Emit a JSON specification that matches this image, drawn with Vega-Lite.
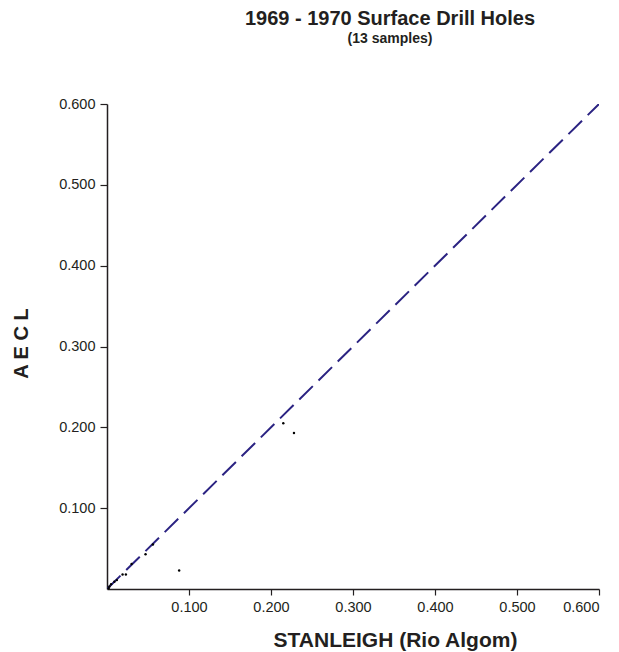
{
  "$schema": "https://vega.github.io/schema/vega-lite/v6.json",
  "width": 492,
  "height": 485,
  "autosize": {"type": "none"},
  "padding": {"left": 107, "top": 104, "right": 20, "bottom": 63},
  "background": "white",
  "config": {
    "view": {"stroke": null},
    "font": "Liberation Sans"
  },
  "title": {
    "text": "1969 - 1970 Surface Drill Holes",
    "subtitle": "(13 samples)",
    "anchor": "middle",
    "dx": 37,
    "offset": 50,
    "fontSize": 20,
    "fontWeight": "bold",
    "color": "#231f20",
    "subtitleFontSize": 14,
    "subtitleFontWeight": "bold",
    "subtitleColor": "#231f20",
    "subtitlePadding": 3,
    "font": "Liberation Sans",
    "subtitleFont": "Liberation Sans"
  },
  "datasets": {
    "samples": [
      {"stanleigh": 0.215, "aecl": 0.205},
      {"stanleigh": 0.228, "aecl": 0.193},
      {"stanleigh": 0.088, "aecl": 0.023},
      {"stanleigh": 0.056, "aecl": 0.055},
      {"stanleigh": 0.047, "aecl": 0.043},
      {"stanleigh": 0.023, "aecl": 0.018},
      {"stanleigh": 0.019, "aecl": 0.018},
      {"stanleigh": 0.009, "aecl": 0.009},
      {"stanleigh": 0.005, "aecl": 0.006},
      {"stanleigh": 0.003, "aecl": 0.003},
      {"stanleigh": 0.012, "aecl": 0.011},
      {"stanleigh": 0.030, "aecl": 0.031},
      {"stanleigh": 0.002, "aecl": 0.001}
    ],
    "identity": [
      {"stanleigh": 0, "aecl": 0},
      {"stanleigh": 0.6, "aecl": 0.6}
    ]
  },
  "layer": [
    {
      "data": {"name": "identity"},
      "mark": {"type": "line", "color": "#2b2382", "strokeWidth": 2, "strokeDash": [19, 8], "clip": true},
      "encoding": {
        "x": {"field": "stanleigh", "type": "quantitative"},
        "y": {"field": "aecl", "type": "quantitative"}
      }
    },
    {
      "data": {"name": "samples"},
      "mark": {"type": "circle", "color": "#000000", "size": 6, "opacity": 1},
      "encoding": {
        "x": {
          "field": "stanleigh",
          "type": "quantitative",
          "scale": {"domain": [0, 0.6], "nice": false, "zero": true},
          "axis": {
            "title": "STANLEIGH (Rio Algom)",
            "values": [0.1, 0.2, 0.3, 0.4, 0.5, 0.6],
            "format": ".3f",
            "grid": false,
            "domainColor": "#231f20",
            "domainWidth": 1.5,
            "tickColor": "#231f20",
            "tickWidth": 1.2,
            "tickSize": 6,
            "labelFontSize": 14.5,
            "labelColor": "#231f20",
            "labelPadding": 5,
            "labelFont": "Liberation Sans",
            "titleFont": "Liberation Sans",
            "titleFontSize": 21,
            "titleFontWeight": "bold",
            "titleColor": "#231f20",
            "titleX": 288,
            "titleY": 57,
            "titleAlign": "center",
            "titleBaseline": "alphabetic"
          }
        },
        "y": {
          "field": "aecl",
          "type": "quantitative",
          "scale": {"domain": [0, 0.6], "nice": false, "zero": true},
          "axis": {
            "title": "A E C L",
            "values": [0.1, 0.2, 0.3, 0.4, 0.5, 0.6],
            "format": ".3f",
            "grid": false,
            "domainColor": "#231f20",
            "domainWidth": 1.5,
            "tickColor": "#231f20",
            "tickWidth": 1.2,
            "tickSize": 7,
            "labelFontSize": 14.5,
            "labelColor": "#231f20",
            "labelPadding": 5,
            "labelFont": "Liberation Sans",
            "titleFont": "Liberation Sans",
            "titleFontSize": 20,
            "titleFontWeight": "bold",
            "titleColor": "#231f20",
            "titleX": -80,
            "titleY": 239,
            "titleAngle": -90,
            "titleAlign": "center",
            "titleBaseline": "alphabetic"
          }
        }
      }
    }
  ]
}
